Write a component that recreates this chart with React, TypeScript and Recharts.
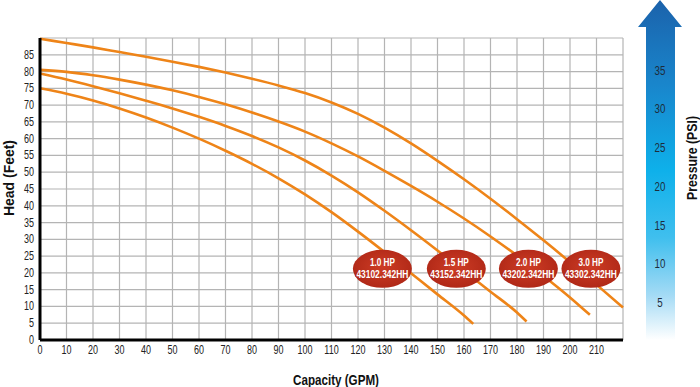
import React from "react";
import {
  LineChart,
  Line,
  XAxis,
  YAxis,
  CartesianGrid,
  ReferenceDot,
} from "recharts";

// pump curves: capacity (GPM) vs head (feet)
const capacity10 = [0, 10, 20, 30, 40, 50, 60, 70, 80, 90, 100, 110, 120, 130, 140, 150, 160, 163.5];
const head10 = [75, 73.4, 71.4, 69.0, 66.3, 63.3, 60.0, 56.4, 52.5, 48.2, 43.4, 38.1, 32.3, 26.2, 19.9, 13.6, 7.3, 4.8];

const capacity15 = [0, 10, 20, 30, 40, 50, 60, 70, 80, 90, 100, 110, 120, 130, 140, 150, 160, 170, 180, 183.6];
const head15 = [79.4, 77.6, 75.6, 73.5, 71.3, 69.0, 66.5, 63.8, 60.8, 57.4, 53.5, 49.0, 44.0, 38.5, 32.7, 26.7, 20.6, 14.4, 8.2, 5.5];

const capacity20 = [0, 10, 20, 30, 40, 50, 60, 70, 80, 90, 100, 110, 120, 130, 140, 150, 160, 170, 180, 190, 200, 207.5];
const head20 = [80.5, 79.9, 78.9, 77.6, 76.1, 74.4, 72.45, 70.25, 67.8, 65.1, 62.1, 58.6, 54.7, 50.4, 45.9, 41.2, 36.2, 30.85, 25.15, 19.1, 12.7, 7.5];

const capacity30 = [0, 10, 20, 30, 40, 50, 60, 70, 80, 90, 100, 110, 120, 130, 140, 150, 160, 170, 180, 190, 200, 210, 220];
const head30 = [89.8, 88.5, 87.2, 85.8, 84.4, 82.95, 81.4, 79.7, 77.85, 75.85, 73.6, 70.8, 67.4, 63.3, 58.6, 53.4, 47.9, 42.1, 36.0, 29.7, 23.2, 16.5, 9.7];

const hpLabels = ["1.0 HP", "1.5 HP", "2.0 HP", "3.0 HP"];
const partNumbers = ["43102.342HH", "43152.342HH", "43202.342HH", "43302.342HH"];
const labelCapacity = [129.2, 157.1, 184.3, 207.9];
const labelHead = [21.2, 21.2, 21.2, 21.2];

const xTicks = [0, 10, 20, 30, 40, 50, 60, 70, 80, 90, 100, 110, 120, 130, 140, 150, 160, 170, 180, 190, 200, 210, 220];
const yTicks = [0, 5, 10, 15, 20, 25, 30, 35, 40, 45, 50, 55, 60, 65, 70, 75, 80, 85, 90];
const psiTicks = [5, 10, 15, 20, 25, 30, 35];
const FEET_PER_PSI = 2.31;

const toPoints = (xs: number[], ys: number[]) => xs.map((x, i) => ({ gpm: x, head: ys[i] }));

const curves = [
  toPoints(capacity10, head10),
  toPoints(capacity15, head15),
  toPoints(capacity20, head20),
  toPoints(capacity30, head30),
];

const FONT = "'Liberation Sans', Arial, sans-serif";
const ORANGE = "#ee8418";

// the original uses a condensed face, so squeeze a regular one horizontally
const Narrow = ({ x, y, s = 0.75, children, ...rest }: any) => (
  <text transform={`translate(${x} ${y}) scale(${s} 1)`} fontFamily={FONT} {...rest}>
    {children}
  </text>
);

const XTick = (props: any) => {
  const { x, y, payload } = props;
  if (payload.value === 220) return null;
  return (
    <Narrow x={x} y={y + 8} textAnchor="middle" fontSize={12} fill="#222">
      {payload.value}
    </Narrow>
  );
};

const YTick = (props: any) => {
  const { x, y, payload } = props;
  if (payload.value === 90) return null;
  return (
    <Narrow x={x} y={y + 4} textAnchor="end" fontSize={12} fill="#222">
      {payload.value}
    </Narrow>
  );
};

const PsiTick = (props: any) => {
  const { y, payload } = props;
  return (
    <Narrow x={660} y={y + 6} textAnchor="middle" fontSize={13} fill="#1d2b3a">
      {payload.value}
    </Narrow>
  );
};

const HpBadge = (i: number) => (props: any) => {
  const { cx, cy } = props;
  return (
    <g>
      <ellipse cx={cx} cy={cy} rx={29.5} ry={19} fill="url(#badge)" />
      <text x={cx} y={cy - 3} textAnchor="middle" fontSize={11} fontWeight="bold" fill="#fff" fontFamily={FONT} textLength={25} lengthAdjust="spacingAndGlyphs">
        {hpLabels[i]}
      </text>
      <text x={cx} y={cy + 9} textAnchor="middle" fontSize={11} fontWeight="bold" fill="#fff" fontFamily={FONT} textLength={52} lengthAdjust="spacingAndGlyphs">
        {partNumbers[i]}
      </text>
    </g>
  );
};

export default function App() {
  return (
    <div style={{ position: "absolute", left: 0, top: 0, width: 700, height: 387, background: "#fff" }}>
      <svg width={700} height={387} style={{ position: "absolute", left: 0, top: 0 }}>
        <defs>
          <linearGradient id="psiArrow" x1="0" y1="0" x2="0" y2="1">
            <stop offset="0%" stopColor="#1b62ab" />
            <stop offset="25%" stopColor="#1986cc" />
            <stop offset="50%" stopColor="#0eb0ea" />
            <stop offset="70%" stopColor="#40bfee" />
            <stop offset="87%" stopColor="#a5dbf5" />
            <stop offset="100%" stopColor="#ffffff" />
          </linearGradient>
        </defs>
        <polygon points="646,340 646,27 638,27 660,0 682,27 675,27 675,340" fill="url(#psiArrow)" />
      </svg>
      <div style={{ position: "absolute", left: 0, top: 0 }}>
        <LineChart width={700} height={387} margin={{ top: 38, right: 0, bottom: 0, left: 0 }}>
          <defs>
            <radialGradient id="badge" cx="50%" cy="45%" r="55%">
              <stop offset="0%" stopColor="#cd3c25" />
              <stop offset="100%" stopColor="#b02817" />
            </radialGradient>
          </defs>
          <CartesianGrid yAxisId="head" stroke="#b4b4b4" strokeWidth={1.2} />
          <XAxis
            type="number"
            dataKey="gpm"
            domain={[0, 220]}
            ticks={xTicks}
            interval={0}
            axisLine={{ stroke: "#000", strokeWidth: 3 }}
            tickLine={false}
            tickMargin={0}
            height={47}
            tick={<XTick />}
          />
          <YAxis
            yAxisId="head"
            type="number"
            domain={[0, 90]}
            ticks={yTicks}
            interval={0}
            axisLine={{ stroke: "#000", strokeWidth: 3 }}
            tickLine={false}
            tickMargin={0}
            width={40}
            tick={<YTick />}
          />
          <YAxis
            yAxisId="psi"
            orientation="right"
            type="number"
            domain={[0, 90 / FEET_PER_PSI]}
            allowDataOverflow
            ticks={psiTicks}
            interval={0}
            axisLine={false}
            tickLine={false}
            width={77}
            tick={<PsiTick />}
          />
          {curves.map((pts, i) => (
            <Line
              key={i}
              yAxisId="head"
              data={pts}
              dataKey="head"
              type="monotone"
              stroke={ORANGE}
              strokeWidth={2.6}
              dot={false}
              activeDot={false}
              isAnimationActive={false}
            />
          ))}
          {labelCapacity.map((x, i) => (
            <ReferenceDot key={i} yAxisId="head" x={x} y={labelHead[i]} ifOverflow="visible" shape={HpBadge(i)} />
          ))}
          <text x={14} y={178} transform="rotate(-90 14 178)" textAnchor="middle" fontSize={15} fontWeight="bold" fill="#111" fontFamily={FONT} textLength={76} lengthAdjust="spacingAndGlyphs">
            Head (Feet)
          </text>
          <text x={336} y={385} textAnchor="middle" fontSize={15} fontWeight="bold" fill="#111" fontFamily={FONT} textLength={86} lengthAdjust="spacingAndGlyphs">
            Capacity (GPM)
          </text>
          <text x={697} y={158} transform="rotate(-90 697 158)" textAnchor="middle" fontSize={15} fontWeight="bold" fill="#111" fontFamily={FONT} textLength={84} lengthAdjust="spacingAndGlyphs">
            Pressure (PSI)
          </text>
        </LineChart>
      </div>
    </div>
  );
}
